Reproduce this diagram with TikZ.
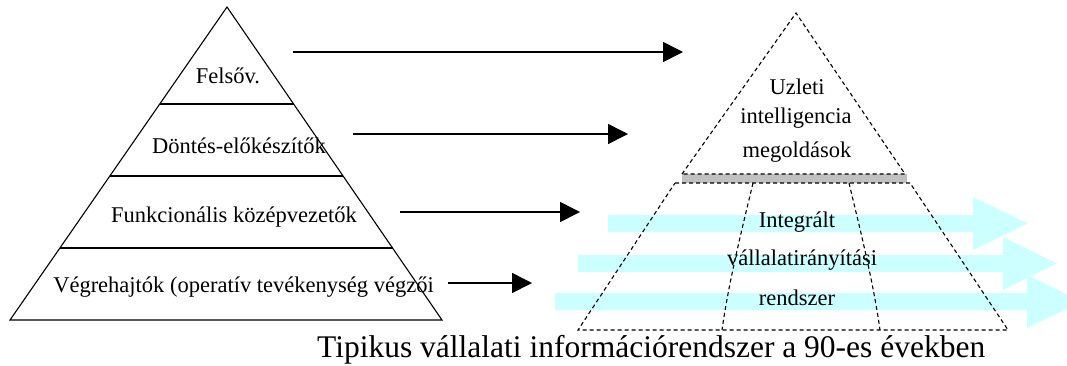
\documentclass[tikz,border=0pt]{standalone}
\usepackage{fontspec}
\setmainfont{Liberation Serif}
\usetikzlibrary{arrows.meta,calc}
\definecolor{flowcyan}{HTML}{CCFFFF}
\definecolor{bandgray}{HTML}{C0C0C0}

\begin{document}
\begin{tikzpicture}[x=1pt,y=-1pt,
  lvl/.style={draw=black,line width=1.1pt},
  outline/.style={draw=black,line width=1.1pt,dash pattern=on 4pt off 3pt},
  lbl/.style={font=\fontsize{22.5}{24}\selectfont,inner sep=0pt,anchor=base},
  flow/.style={-{Triangle[length=20pt,width=20pt]},line width=1.6pt},
  wide/.style={fill=flowcyan,draw=none}]

\clip (0,0) rectangle (1067,365);
\fill[white] (0,0) rectangle (1067,365);

% wide light-cyan process arrows behind the right pyramid
\fill[wide] (608,215) -- (973,215) -- (973,197) -- (1028,223.5) -- (973,250) -- (973,232) -- (608,232) -- cycle;
\fill[wide] (578,255) -- (1003,255) -- (1003,237) -- (1057,263.5) -- (1003,290) -- (1003,272) -- (578,272) -- cycle;
\fill[wide] (555,293) -- (1027,293) -- (1027,275) -- (1082,301.5) -- (1027,328) -- (1027,310) -- (555,310) -- cycle;

% left pyramid: management levels
\coordinate (lA) at (227,7);
\coordinate (lL) at (10,320);
\coordinate (lR) at (442,320);
\draw[lvl] (lL) -- (lA) -- (lR) -- cycle;
\foreach \f in {0.31,0.54,0.77}
  \draw[lvl] ($(lA)!\f!(lL)$) -- ($(lA)!\f!(lR)$);

\node[lbl] (top)  at (228,83)   {Felsőv.};
\node[lbl] (prep) at (239,153)  {Döntés-előkészítők};
\node[lbl] (mid)  at (234,222)  {Funkcionális középvezetők};
\node[lbl] (ops)  at (243.5,292) {Végrehajtók (operatív tevékenység végzői};

% right pyramid: information systems
\coordinate (rA) at (796,13);
\coordinate (rL1) at (682,174);
\coordinate (rR1) at (905,174);
\coordinate (rL2) at (675,183);
\coordinate (rR2) at (910,183);
\coordinate (rL3) at (578,330);
\coordinate (rR3) at (1008,330);
\fill[bandgray] (682,174) rectangle (907,183);
\draw[outline] (rL1) -- (rA) -- (rR1) -- cycle;
\draw[outline] (rL2) -- (rR2) -- (rR3) -- (rL3) -- cycle;
\draw[outline] (753,183) .. controls (743,225) and (729,280) .. (722,330);
\draw[outline] (849,183) .. controls (859,225) and (873,280) .. (880,330);

\node[lbl] (bi1) at (797,94)  {Uzleti};
\node[lbl] (bi2) at (796,123) {intelligencia};
\node[lbl] (bi3) at (797,157) {megoldások};
\node[lbl] (erp1) at (797,227) {Integrált};
\node[lbl] (erp2) at (802,265) {vállalatirányítási};
\node[lbl] (erp3) at (797,305) {rendszer};

% level-to-system arrows
\coordinate (a1s) at (293,52);  \coordinate (a1e) at (683,52);
\coordinate (a2s) at (353,134); \coordinate (a2e) at (628,134);
\coordinate (a3s) at (400,212); \coordinate (a3e) at (580,212);
\coordinate (a4s) at (448,283); \coordinate (a4e) at (532,283);
\draw[flow] (a1s) -- (a1e);
\draw[flow] (a2s) -- (a2e);
\draw[flow] (a3s) -- (a3e);
\draw[flow] (a4s) -- (a4e);

\node[font=\fontsize{31.5}{34}\selectfont,inner sep=0pt,anchor=base west] (cap) at (317,357)
  {Tipikus vállalati információrendszer a 90-es években};
\end{tikzpicture}
\end{document}
